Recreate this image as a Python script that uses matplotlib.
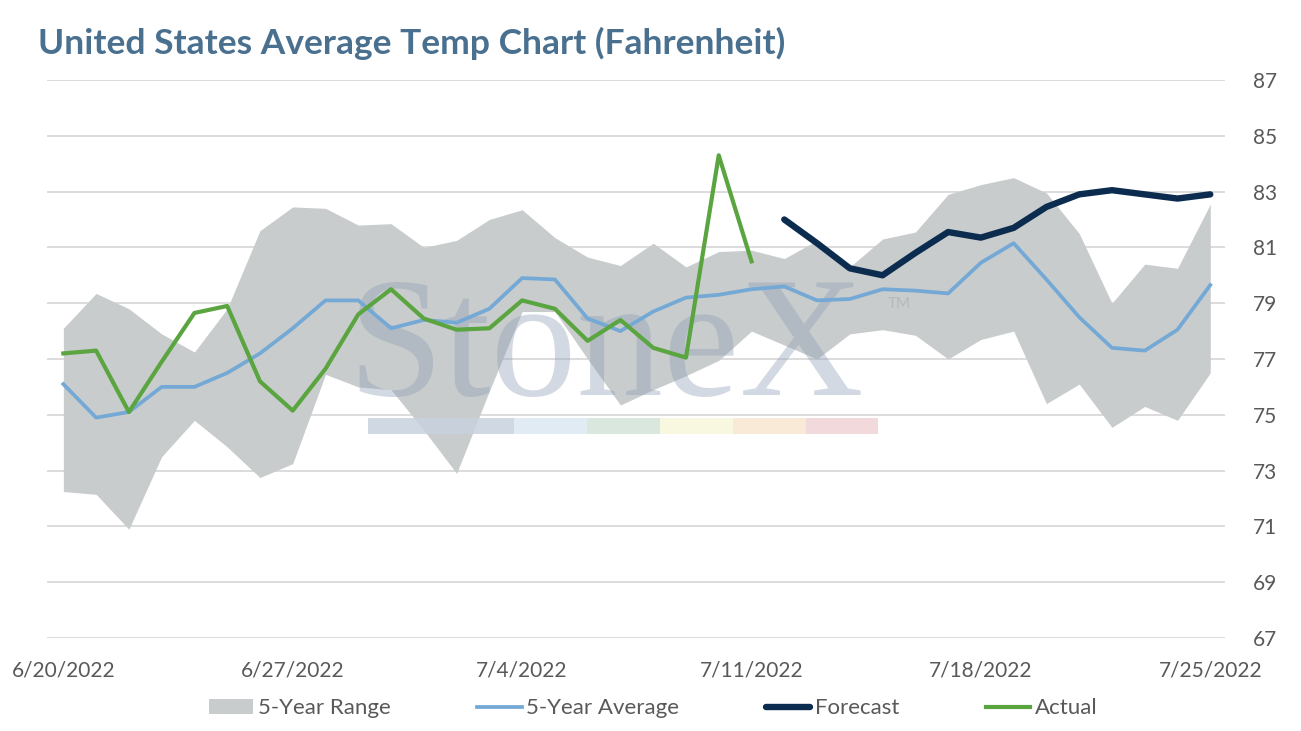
import numpy as np
import pandas as pd
import matplotlib
matplotlib.use("Agg")
import matplotlib.pyplot as plt
from matplotlib.patches import Rectangle

plt.rcParams['font.family'] = ['Lato', 'DejaVu Sans']

# daily dates, 6/20/2022 .. 7/25/2022
dates = pd.date_range('2022-06-20', '2022-07-25', freq='D')
tick_labels = ['6/20/2022', '6/27/2022', '7/4/2022', '7/11/2022', '7/18/2022', '7/25/2022']

range_hi = [78.1, 79.35, 78.8, 77.9, 77.25, 78.8, 81.6, 82.45, 82.4, 81.8, 81.85, 81.0,
            81.25, 82.0, 82.35, 81.35, 80.65, 80.35, 81.15, 80.3, 80.85, 80.9, 80.6, 81.25,
            80.3, 81.3, 81.55, 82.9, 83.25, 83.5, 82.95, 81.5, 79.0, 80.4, 80.25, 82.55]
range_lo = [72.25, 72.15, 70.9, 73.5, 74.8, 73.85, 72.75, 73.25, 76.45, 76.0, 75.9, 74.45,
            72.9, 75.85, 78.7, 78.7, 77.0, 75.35, 75.9, 76.4, 76.95, 78.0, 77.5, 77.0,
            77.9, 78.05, 77.85, 77.0, 77.7, 78.0, 75.4, 76.1, 74.55, 75.3, 74.8, 76.5]
avg5 = [76.1, 74.9, 75.1, 76.0, 76.0, 76.5, 77.2, 78.1, 79.1, 79.1, 78.1, 78.4,
        78.3, 78.8, 79.9, 79.85, 78.45, 78.0, 78.7, 79.2, 79.3, 79.5, 79.6, 79.1,
        79.15, 79.5, 79.45, 79.35, 80.45, 81.15, 79.85, 78.5, 77.4, 77.3, 78.05, 79.65]
actual = [77.2, 77.3, 75.1, 76.9, 78.65, 78.9, 76.2, 75.15, 76.65, 78.6, 79.5, 78.45,
          78.05, 78.1, 79.1, 78.8, 77.65, 78.4, 77.4, 77.05, 84.3, 80.5]
forecast = [82.0, 81.15, 80.25, 80.0, 80.8, 81.55, 81.35, 81.7, 82.45, 82.9,
            83.05, 82.9, 82.75, 82.9]

x = np.arange(len(dates))
x_act = x[:len(actual)]
x_fc = x[len(dates) - len(forecast):]

fig = plt.figure(figsize=(13.01, 7.31), dpi=100)
ax = fig.add_axes([0.0361, 0.1272, 0.9055, 0.7634])

ax.fill_between(x, range_lo, range_hi, color='#c9cccd', lw=0, zorder=1, label='5-Year Range')

# StoneX watermark (behind the lines)
ax.text(0.4745, 0.435, 'StoneX', transform=ax.transAxes, family='Liberation Serif',
        fontsize=124, color='#8c9db5', alpha=0.38, ha='center', va='baseline', zorder=2)
ax.text(0.714, 0.592, 'TM', transform=ax.transAxes, fontsize=11, color='#b0b4b8',
        alpha=0.8, zorder=2)
bar_cols = ['#c8d2de', '#c8d2de', '#dbe8f2', '#d4e3da', '#f7f6da', '#f9e6d0', '#f0d3d6']
for k, c in enumerate(bar_cols):
    ax.add_patch(Rectangle((0.2725 + k * 0.0619, 0.366), 0.0619, 0.029, transform=ax.transAxes,
                           color=c, alpha=0.85, lw=0, zorder=2))

ax.plot(x, avg5, color='#74a9d6', lw=2.7, zorder=3, label='5-Year Average')
ax.plot(x_fc, forecast, color='#0b2c4f', lw=4.6, zorder=4, solid_capstyle='round', label='Forecast')
ax.plot(x_act, actual, color='#5aa540', lw=3.0, zorder=5, label='Actual')

ax.set_xlim(-0.5, 35.45)
ax.set_ylim(67, 87)
ax.set_yticks(np.arange(67, 88, 2))
ax.yaxis.tick_right()
ax.set_xticks(x[::7])
ax.set_xticklabels(tick_labels)
ax.tick_params(axis='both', length=0, labelsize=15, labelcolor='#595959')
ax.tick_params(axis='y', pad=20)
ax.tick_params(axis='x', pad=16)
ax.grid(axis='y', color='#d9d9d9', lw=1.3)
ax.set_axisbelow(True)
for s in ax.spines.values():
    s.set_visible(False)

fig.text(0.029, 0.941, 'United States Average Temp Chart (Fahrenheit)', fontsize=25.5,
         fontweight='bold', color='#4a7090', va='center', ha='left')

h, l = ax.get_legend_handles_labels()
fig.legend(h, l, loc='center', bbox_to_anchor=(0.502, 0.031), ncol=4, frameon=False,
           fontsize=16, labelcolor='#595959', handlelength=2.0, handletextpad=0.2,
           columnspacing=3.9)

fig.savefig('out.png', dpi=100)
